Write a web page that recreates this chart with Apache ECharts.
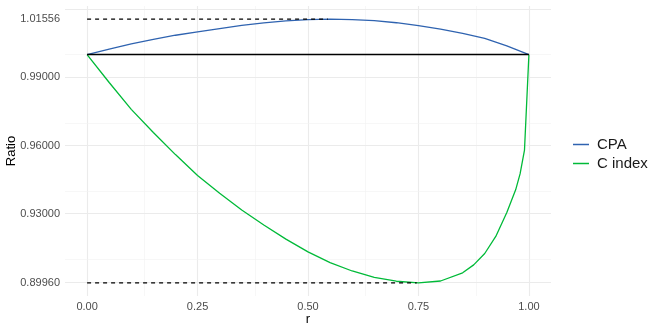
<!DOCTYPE html>
<html>
<head>
<meta charset="utf-8">
<script src="https://cdn.jsdelivr.net/npm/echarts@6/dist/echarts.min.js"></script>
<style>html,body{margin:0;padding:0;background:#fff}#c{width:664px;height:332px}</style>
</head>
<body>
<div id="c"></div>
<script>
const rValues = [0, 0.05, 0.10, 0.15, 0.20, 0.25, 0.30, 0.35, 0.40, 0.45, 0.50, 0.55, 0.60, 0.65, 0.70, 0.75, 0.80, 0.85, 0.90, 0.95, 1.00];
const cpaValues = [1.0, 1.0024, 1.0047, 1.0067, 1.0085, 1.0100, 1.0114, 1.0128, 1.0139, 1.0148, 1.0154, 1.01556, 1.0154, 1.0149, 1.0140, 1.0127, 1.0112, 1.0093, 1.0071, 1.0038, 1.0];
const cIndexR = [0, 0.05, 0.10, 0.15, 0.20, 0.25, 0.30, 0.35, 0.40, 0.45, 0.50, 0.55, 0.60, 0.65, 0.70, 0.75, 0.80, 0.85, 0.875, 0.90, 0.925, 0.95, 0.97, 0.98, 0.99, 1.00];
const cIndexValues = [1.0, 0.9877, 0.9759, 0.9657, 0.9560, 0.9468, 0.9390, 0.9316, 0.9250, 0.9188, 0.9132, 0.9085, 0.9048, 0.9020, 0.9003, 0.8996, 0.9004, 0.9040, 0.9075, 0.9125, 0.9200, 0.9305, 0.9405, 0.9475, 0.9580, 1.0];
const xTicks = [0, 0.25, 0.5, 0.75, 1];
const xMinor = [0.125, 0.375, 0.625, 0.875];
const yTicks = [0.8996, 0.93, 0.96, 0.99, 1.01556];
const yMinor = [0.9148, 0.945, 0.975, 1.00278];
const cpaMax = {r: 0.545, v: 1.01556};
const cIndexMin = {r: 0.746, v: 0.8996};
const baseline = 1.0;

const xRange = [-0.05, 1.05];
const ySpan = yTicks[yTicks.length-1] - yTicks[0];
const yRange = [yTicks[0] - 0.05*ySpan, yTicks[yTicks.length-1] + 0.05*ySpan];

const zip = (a, b) => a.map((x, i) => [x, b[i]]);
const gridLines = [];
xTicks.forEach(v => gridLines.push({xAxis: v, lineStyle: {color: '#EBEBEB', width: 1.1, type: 'solid'}}));
xMinor.forEach(v => gridLines.push({xAxis: v, lineStyle: {color: '#F2F2F2', width: 0.6, type: 'solid'}}));
yTicks.forEach(v => gridLines.push({yAxis: v, lineStyle: {color: '#EBEBEB', width: 1.1, type: 'solid'}}));
yMinor.forEach(v => gridLines.push({yAxis: v, lineStyle: {color: '#F2F2F2', width: 0.6, type: 'solid'}}));

const chart = echarts.init(document.getElementById('c'), null, {renderer: 'canvas'});
chart.setOption({
  animation: false,
  backgroundColor: '#ffffff',
  textStyle: {fontFamily: 'Liberation Sans'},
  grid: {left: 65, right: 113, top: 6, bottom: 36, containLabel: false, outerBoundsMode: 'none'},
  legend: {
    orient: 'vertical', left: 573, top: 137, itemGap: 4, padding: 0,
    icon: 'rect', itemWidth: 16, itemHeight: 1.5,
    textStyle: {fontSize: 15, color: '#1a1a1a', fontFamily: 'Liberation Sans', padding: [0,0,0,3]},
    data: ['CPA', 'C index']
  },
  xAxis: {
    type: 'value', min: xRange[0], max: xRange[1],
    name: 'r', nameLocation: 'middle', nameGap: 17, nameMoveOverlap: false,
    nameTextStyle: {fontSize: 13, color: '#000', fontFamily: 'Liberation Sans'},
    axisLine: {show: false}, axisTick: {show: false}, splitLine: {show: false},
    axisLabel: {customValues: xTicks, formatter: v => v.toFixed(2), fontSize: 11, color: '#4D4D4D', margin: 5, fontFamily: 'Liberation Sans'}
  },
  yAxis: {
    type: 'value', min: yRange[0], max: yRange[1],
    name: 'Ratio', nameLocation: 'middle', nameGap: 47, nameMoveOverlap: false,
    nameTextStyle: {fontSize: 13, color: '#000', fontFamily: 'Liberation Sans'},
    axisLine: {show: false}, axisTick: {show: false}, splitLine: {show: false},
    axisLabel: {customValues: yTicks, formatter: v => v.toFixed(5), fontSize: 11, color: '#4D4D4D', margin: 5, fontFamily: 'Liberation Sans'}
  },
  series: [
    {type: 'line', data: [], silent: true, z: 0,
     markLine: {silent: true, z: 0, symbol: ['none','none'], label: {show: false}, animation: false, data: gridLines}},
    {name: 'CPA', type: 'line', data: zip(rValues, cpaValues), smooth: false, symbol: 'none', color: '#2F63B0',
     lineStyle: {color: '#2F63B0', width: 1.3}, itemStyle: {color: '#2F63B0'}, z: 4},
    {name: 'C index', type: 'line', data: zip(cIndexR, cIndexValues), smooth: false, symbol: 'none', color: '#00BA38',
     lineStyle: {color: '#00BA38', width: 1.3}, itemStyle: {color: '#00BA38'}, z: 4},
    {name: 'base', type: 'line', data: [[0, baseline], [1, baseline]], symbol: 'none', color: '#000000',
     lineStyle: {color: '#000000', width: 1.4, opacity: 1}, itemStyle: {color: '#000000'}, z: 6},
    {name: 'maxline', type: 'line', data: [[0, cpaMax.v], [cpaMax.r, cpaMax.v]], symbol: 'none', color: '#000000',
     lineStyle: {color: '#000', width: 1.3, type: [4, 4]}, z: 5},
    {name: 'minline', type: 'line', data: [[0, cIndexMin.v], [cIndexMin.r, cIndexMin.v]], symbol: 'none', color: '#000000',
     lineStyle: {color: '#000', width: 1.3, type: [4, 4]}, z: 5}
  ]
});
</script>
</body>
</html>
